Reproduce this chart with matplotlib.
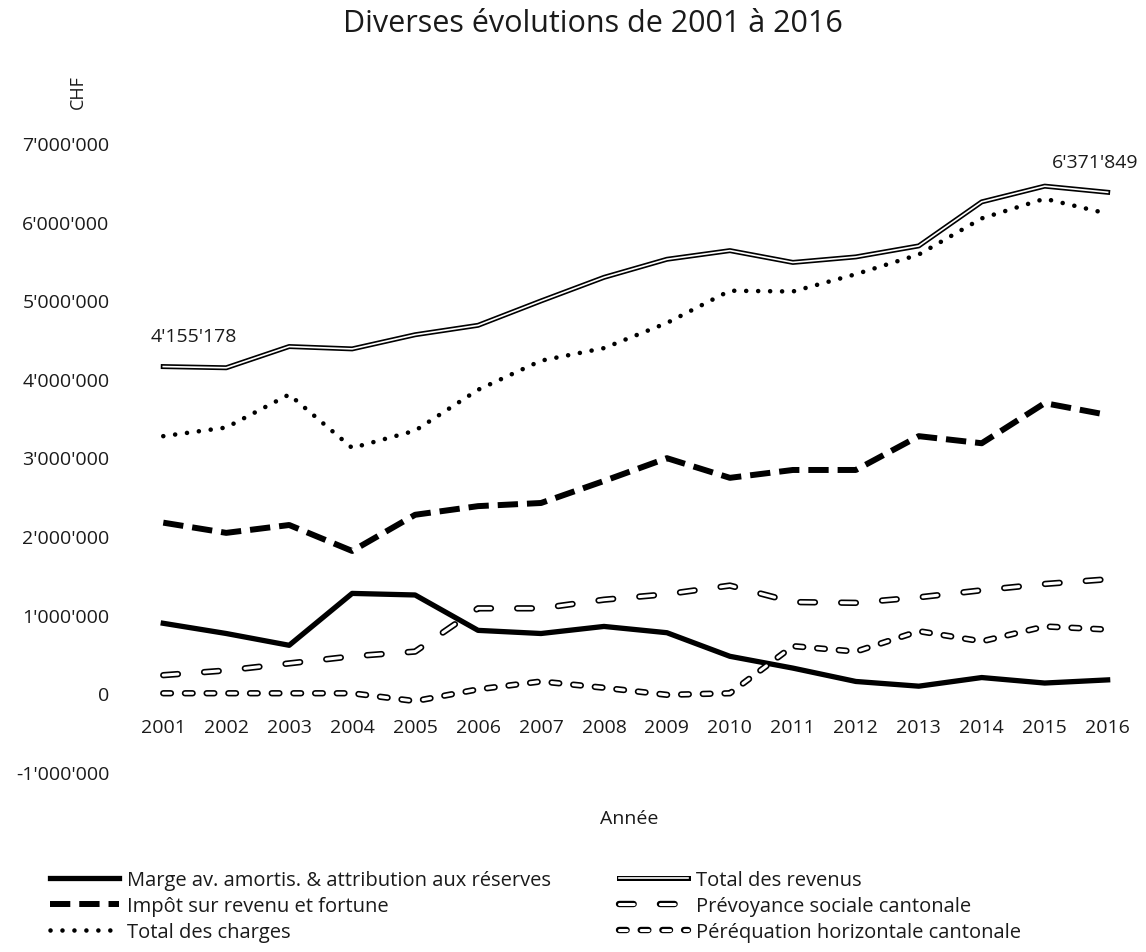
import numpy as np
import matplotlib
matplotlib.use('Agg')
import matplotlib.pyplot as plt
import matplotlib.patheffects as pe

plt.rcParams['font.family'] = ['Open Sans', 'DejaVu Sans']
TXT = '#1a1a1a'

years = list(range(2001, 2017))

# values in CHF
marge = [890000, 760000, 610000, 1270000, 1250000, 800000, 760000, 850000,
         770000, 470000, 320000, 150000, 90000, 200000, 130000, 170000]
impot = [2170000, 2040000, 2140000, 1810000, 2270000, 2380000, 2420000, 2700000,
         2990000, 2740000, 2840000, 2840000, 3270000, 3180000, 3690000, 3540000]
charges = [3270000, 3380000, 3800000, 3120000, 3340000, 3860000, 4230000, 4390000,
           4710000, 5120000, 5110000, 5330000, 5580000, 6040000, 6290000, 6100000]
revenus = [4155178, 4140000, 4410000, 4380000, 4560000, 4680000, 4990000, 5290000,
           5520000, 5630000, 5480000, 5550000, 5690000, 6250000, 6450000, 6371849]
prevoyance = [230000, 290000, 380000, 470000, 530000, 1080000, 1080000, 1190000,
              1260000, 1370000, 1160000, 1150000, 1220000, 1310000, 1390000, 1450000]
perequation = [0, 0, 0, 0, -100000, 50000, 150000, 70000,
               -20000, 0, 600000, 530000, 790000, 660000, 850000, 810000]

labels = ['Marge av. amortis. & attribution aux réserves',
          'Impôt sur revenu et fortune',
          'Total des charges',
          'Total des revenus',
          'Prévoyance sociale cantonale',
          'Péréquation horizontale cantonale']

y_ticks = [-1000000, 0, 1000000, 2000000, 3000000, 4000000, 5000000, 6000000, 7000000]


def chf(v):
    return f"{v:,.0f}".replace(',', "'")


fig = plt.figure(figsize=(11.46, 9.53), dpi=100)
ax = fig.add_axes([0.115, 0.189, 0.879, 0.660])

outline = [pe.Stroke(linewidth=4.6, foreground='black'), pe.Normal()]

ax.plot(years, marge, color='black', lw=3.8, label=labels[0])
ax.plot(years, impot, color='black', lw=4.3, linestyle=(0, (3.4, 1.5)),
        label=labels[1])
ax.plot(years, charges, color='black', lw=3.3, linestyle=(0, (0.01, 2.6)),
        dash_capstyle='round', label=labels[2])
ax.plot(years, revenus, color='white', lw=1.2, label=labels[3],
        path_effects=[pe.Stroke(linewidth=3.6, foreground='black'), pe.Normal()])
ax.plot(years, prevoyance, color='white', lw=2.2, linestyle=(0, (4.8, 8.6)),
        dash_capstyle='round', label=labels[4], path_effects=outline)
ax.plot(years, perequation, color='white', lw=2.2, linestyle=(0, (2.5, 4.6)),
        dash_capstyle='round', label=labels[5], path_effects=outline)

ax.annotate(chf(revenus[0]), (years[0], revenus[0]), xytext=(-9, 22),
            textcoords='offset points', ha='left', va='center', fontsize=14,
            color=TXT)
ax.annotate(chf(revenus[-1]), (years[-1], revenus[-1]), xytext=(-9, 22),
            textcoords='offset points', ha='center', va='center', fontsize=14,
            color=TXT)

ax.set_xlim(2000.5, 2016.5)
ax.set_ylim(-1000000, 7000000)
ax.set_xticks(years)
ax.set_xticklabels([str(y) for y in years])
ax.set_yticks(y_ticks)
ax.set_yticklabels([chf(v) for v in y_ticks])
ax.spines['bottom'].set_position(('data', 0))
for s in ax.spines.values():
    s.set_visible(False)
ax.tick_params(length=0, labelsize=14, labelcolor=TXT)
ax.tick_params(axis='x', pad=18)
ax.tick_params(axis='y', pad=16)

fig.text(0.517, 0.975, 'Diverses évolutions de 2001 à 2016', ha='center',
         va='center', fontsize=22, color=TXT)
fig.text(0.068, 0.903, 'CHF', rotation=90, ha='center', va='center', fontsize=13,
         color=TXT)
fig.text(0.549, 0.141, 'Année', ha='center', va='center', fontsize=14,
         color=TXT)

fig.legend(loc='upper left', bbox_to_anchor=(50 / 1146, 0.086), ncol=2,
           frameon=False, fontsize=14.5, handlelength=3.45, handletextpad=0.35,
           columnspacing=3.4, labelspacing=0.29, borderpad=0, borderaxespad=0,
           labelcolor=TXT)

fig.savefig('out.png', dpi=100)
